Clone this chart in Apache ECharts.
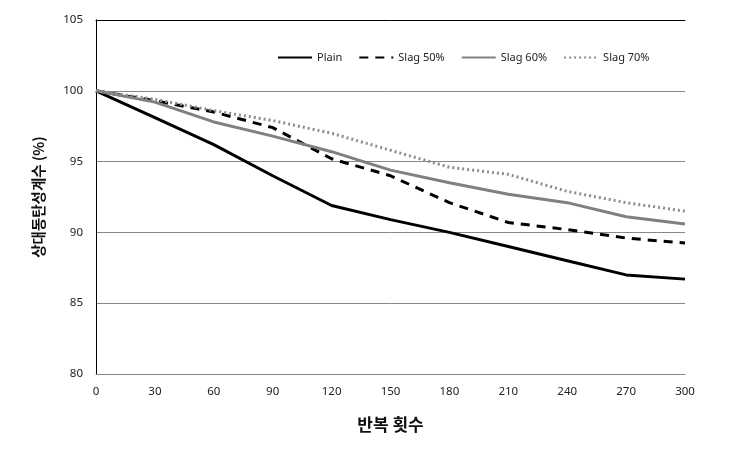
<!DOCTYPE html>
<html>
<head>
<meta charset="utf-8">
<script src="https://cdn.jsdelivr.net/npm/echarts@6/dist/echarts.min.js"></script>
<style>
html,body{margin:0;padding:0;background:#fff;}
#chart{width:743px;height:456px;}
</style>
</head>
<body>
<div id="chart"></div>
<script>
const cycles = [0, 30, 60, 90, 120, 150, 180, 210, 240, 270, 300];
const plain  = [100, 98.1, 96.2, 94.0, 91.9, 90.9, 90.0, 89.0, 88.0, 87.0, 86.7];
const slag50 = [100, 99.3, 98.5, 97.4, 95.2, 94.0, 92.1, 90.7, 90.2, 89.6, 89.25];
const slag60 = [100, 99.2, 97.8, 96.8, 95.7, 94.4, 93.5, 92.7, 92.1, 91.1, 90.6];
const slag70 = [100, 99.4, 98.6, 97.9, 97.0, 95.8, 94.6, 94.1, 92.9, 92.1, 91.5];
const seriesNames = ['Plain', 'Slag 50%', 'Slag 60%', 'Slag 70%'];
const xTitle = '반복 횟수';
const yTitle = '상대동탄성계수 (%)';

const pair = arr => cycles.map((c, i) => [c, arr[i]]);
const labelFont = { fontFamily: '"Noto Sans", sans-serif', fontSize: 11.5, color: '#222' };
const korFont = '"Noto Sans CJK KR", sans-serif';

const chart = echarts.init(document.getElementById('chart'), null, { renderer: 'canvas' });
chart.setOption({
  backgroundColor: '#fff',
  animation: false,
  grid: { left: 96, right: 58, top: 20, bottom: 82 },
  legend: {
    top: 47, left: 272,
    itemWidth: 34, itemHeight: 12, itemGap: 16,
    itemStyle: { opacity: 0 },
    textStyle: { fontFamily: '"Noto Sans", sans-serif', fontSize: 11, color: '#222' },
    data: seriesNames
  },
  xAxis: [{
    type: 'value', min: 0, max: 300, interval: 30,
    name: xTitle, nameLocation: 'middle', nameGap: 42,
    nameTextStyle: { fontFamily: korFont, fontSize: 17, fontWeight: 'bold', color: '#111' },
    axisLine: { lineStyle: { color: '#888', width: 1 } },
    axisTick: { show: false },
    axisLabel: Object.assign({ margin: 12 }, labelFont),
    splitLine: { show: false }
  }, {
    type: 'value', position: 'top', min: 0, max: 300,
    axisLine: { show: true, lineStyle: { color: '#000', width: 1 } },
    axisTick: { show: false }, axisLabel: { show: false }, splitLine: { show: false }
  }],
  yAxis: [{
    type: 'value', min: 80, max: 105, interval: 5,
    name: yTitle, nameLocation: 'middle', nameGap: 50,
    nameTextStyle: { fontFamily: korFont, fontSize: 14.5, fontWeight: 'bold', color: '#111' },
    axisLine: { show: true, lineStyle: { color: '#888', width: 1 } },
    axisTick: { show: false },
    axisLabel: Object.assign({ margin: 13 }, labelFont),
    splitLine: { show: true, lineStyle: { color: '#888', width: 1 } }
  }, {
    type: 'value', position: 'right', min: 80, max: 105,
    axisLine: { show: true, lineStyle: { color: '#000', width: 1 } },
    axisTick: { show: false }, axisLabel: { show: false }, splitLine: { show: false }
  }],
  series: [
    { name: seriesNames[0], type: 'line', data: pair(plain), showSymbol: false, symbol: 'none',
      lineStyle: { color: '#000', width: 3 }, itemStyle: { color: '#000' } },
    { name: seriesNames[1], type: 'line', data: pair(slag50), showSymbol: false, symbol: 'none',
      lineStyle: { color: '#000', width: 3, type: [9, 7] }, itemStyle: { color: '#000' } },
    { name: seriesNames[2], type: 'line', data: pair(slag60), showSymbol: false, symbol: 'none',
      lineStyle: { color: '#808080', width: 3 }, itemStyle: { color: '#808080' } },
    { name: seriesNames[3], type: 'line', data: pair(slag70), showSymbol: false, symbol: 'none',
      lineStyle: { color: '#8c8c8c', width: 3, type: [2, 3] }, itemStyle: { color: '#8c8c8c' } }
  ]
});
</script>
</body>
</html>
